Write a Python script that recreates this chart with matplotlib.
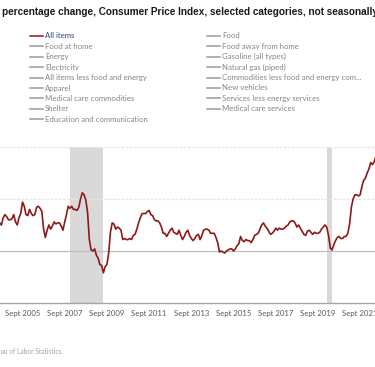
import numpy as np
import matplotlib
matplotlib.use("Agg")
import matplotlib.pyplot as plt
from matplotlib.lines import Line2D

# 12-month percent change, CPI-U all items, monthly from Jan 2003
first_year = 2003
all_items = [
    2.6, 3.0, 3.0, 2.2, 2.1, 2.1, 2.1, 2.2, 2.3, 2.0, 1.8, 1.9,   # 2003
    1.9, 1.7, 1.7, 2.3, 3.1, 3.3, 3.0, 2.7, 2.5, 3.2, 3.5, 3.3,   # 2004
    3.0, 3.0, 3.1, 3.5, 2.8, 2.5, 3.2, 3.6, 4.7, 4.3, 3.5, 3.4,   # 2005
    4.0, 3.6, 3.4, 3.5, 4.2, 4.3, 4.1, 3.8, 2.1, 1.3, 2.0, 2.5,   # 2006
    2.1, 2.4, 2.8, 2.6, 2.7, 2.7, 2.4, 2.0, 2.8, 3.5, 4.3, 4.1,   # 2007
    4.3, 4.0, 4.0, 3.9, 4.2, 5.0, 5.6, 5.4, 4.9, 3.7, 1.1, 0.1,   # 2008
    0.0, 0.2, -0.4, -0.7, -1.3, -1.4, -2.1, -1.5, -1.3, -0.2, 1.8, 2.7,  # 2009
    2.6, 2.1, 2.3, 2.2, 2.0, 1.1, 1.2, 1.1, 1.1, 1.2, 1.1, 1.5,   # 2010
    1.6, 2.1, 2.7, 3.2, 3.6, 3.6, 3.6, 3.8, 3.9, 3.5, 3.4, 3.0,   # 2011
    2.9, 2.9, 2.7, 2.3, 1.7, 1.7, 1.4, 1.7, 2.0, 2.2, 1.8, 1.7,   # 2012
    1.6, 2.0, 1.5, 1.1, 1.4, 1.8, 2.0, 1.5, 1.2, 1.0, 1.2, 1.5,   # 2013
    1.6, 1.1, 1.5, 2.0, 2.1, 2.1, 2.0, 1.7, 1.7, 1.7, 1.3, 0.8,   # 2014
    -0.1, 0.0, -0.1, -0.2, 0.0, 0.1, 0.2, 0.2, 0.0, 0.2, 0.5, 0.7,  # 2015
    1.4, 1.0, 0.9, 1.1, 1.0, 1.0, 0.8, 1.1, 1.5, 1.6, 1.7, 2.1,   # 2016
    2.5, 2.7, 2.4, 2.2, 1.9, 1.6, 1.7, 1.9, 2.2, 2.0, 2.2, 2.1,   # 2017
    2.1, 2.2, 2.4, 2.5, 2.8, 2.9, 2.9, 2.7, 2.3, 2.5, 2.2, 1.9,   # 2018
    1.6, 1.5, 1.9, 2.0, 1.8, 1.6, 1.8, 1.7, 1.7, 1.8, 2.1, 2.3,   # 2019
    2.5, 2.3, 1.5, 0.3, 0.1, 0.6, 1.0, 1.3, 1.4, 1.2, 1.2, 1.4,   # 2020
    1.4, 1.7, 2.6, 4.2, 5.0, 5.4, 5.4, 5.3, 5.4, 6.2, 6.8, 7.0,   # 2021
    7.5, 7.9, 8.5, 8.3, 8.6, 9.1, 8.5, 8.3, 8.2, 7.7, 7.1, 6.5,   # 2022
]

# recessions (start year, month, end year, month)
recessions = [(2007, 12, 2009, 6), (2020, 2, 2020, 4)]

tick_years = [2003, 2005, 2007, 2009, 2011, 2013, 2015, 2017, 2019, 2021]

legend_left = ["All items", "Food at home", "Energy", "Electricity",
               "All items less food and energy", "Apparel",
               "Medical care commodities", "Shelter",
               "Education and communication"]
legend_right = ["Food", "Food away from home", "Gasoline (all types)",
                "Natural gas (piped)",
                "Commodities less food and energy com...", "New vehicles",
                "Services less energy services", "Medical care services"]

W, H = 375, 367
fig = plt.figure(figsize=(W / 100, H / 100), dpi=100)

def fx(px):
    return px / W

def fy(py):
    return 1 - py / H

t = first_year + np.arange(len(all_items)) / 12.0

ax = fig.add_axes([0, fy(303), 1, fy(147) - fy(303)])
for y0, m0, y1, m1 in recessions:
    ax.axvspan(y0 + (m0 - 1) / 12, y1 + m1 / 12, color="#d9d9d9", lw=0, zorder=0)
ax.axhline(10, color="#e6e6e6", lw=1, ls=(0, (2, 1)), zorder=1)
ax.axhline(5, color="#e6e6e6", lw=1, ls=(0, (2, 1)), zorder=1)
ax.axhline(0, color="#bfbfbf", lw=0.9, zorder=1)
ax.plot(t, all_items, color="#8b1a1a", lw=1.2, zorder=3)

for s in ["left", "right", "top"]:
    ax.spines[s].set_visible(False)
ax.spines["bottom"].set_color("#a6a6a6")
ax.spines["bottom"].set_linewidth(1.0)
ax.set_yticks([])
ax.set_xticks([y + 8 / 12 for y in tick_years])
ax.set_xticklabels(["Sept %d" % y for y in tick_years],
                   fontsize=5.6, color="#595959", family="Lato")
ax.tick_params(axis="x", length=0, pad=5)
# view is cropped: set limits after the ticks so they don't widen it
ax.set_xlim(2004.60, 2022.37)
ax.set_ylim(-5, 10)

# title (cropped at both ends in the reference)
fig.text(fx(2), fy(12), "percentage change, Consumer Price Index, selected categories, not seasonally adjusted",
         ha="left", va="center", fontsize=7.2, fontweight="bold",
         family="Liberation Sans", color="#1a1a1a")

# legend
row_h = 10.4
for col, (labels, x0) in enumerate([(legend_left, 30), (legend_right, 207)]):
    for i, lab in enumerate(labels):
        y = 36 + i * row_h
        first = (col == 0 and i == 0)
        fig.add_artist(Line2D([fx(x0), fx(x0 + 13)], [fy(y), fy(y)],
                              color="#8b1a1a" if first else "#9a9a9a", lw=1.1))
        fig.text(fx(x0 + 15), fy(y), lab, ha="left", va="center",
                 fontsize=5.6, family="Lato",
                 color="#2e3a78" if first else "#858585")

fig.text(fx(63), fy(352), "Source: U.S. Bureau of Labor Statistics.",
         ha="right", va="center", fontsize=4.8, family="Lato", color="#a0a0a0")

fig.savefig("out.png", dpi=100)
